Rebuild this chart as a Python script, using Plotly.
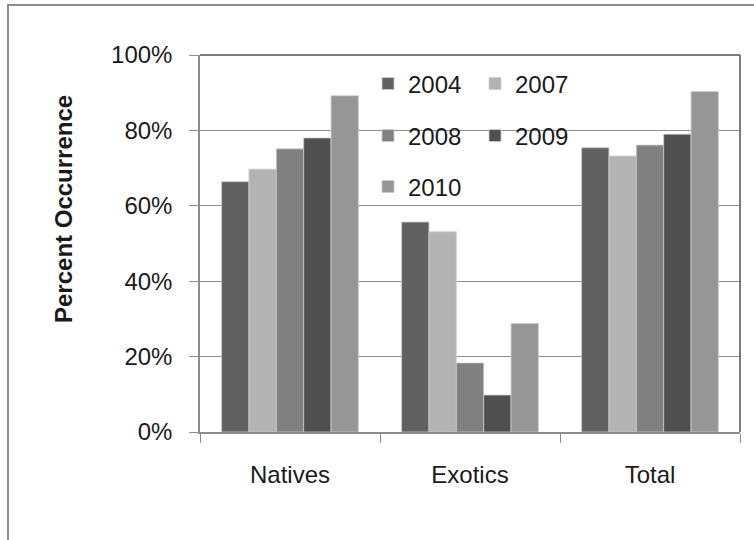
import plotly.graph_objects as go

categories = ["Natives", "Exotics", "Total"]
years = ["2004", "2007", "2008", "2009", "2010"]
values = {
    "2004": [0.664, 0.557, 0.754],
    "2007": [0.697, 0.531, 0.732],
    "2008": [0.751, 0.183, 0.761],
    "2009": [0.780, 0.098, 0.790],
    "2010": [0.892, 0.288, 0.903],
}
colors = {
    "2004": "#616161",
    "2007": "#b3b3b3",
    "2008": "#808080",
    "2009": "#4f4f4f",
    "2010": "#969696",
}
ytick_vals = [0, 0.2, 0.4, 0.6, 0.8, 1.0]
ytick_text = ["0%", "20%", "40%", "60%", "80%", "100%"]

W, H = 754, 540
L, R, T, B = 200, 14, 55, 108
pw, ph = W - L - R, H - T - B

def px_x(x):
    return (x - L) / pw

def px_y(y):
    return (H - B - y) / ph

FONT = "Liberation Sans, Arial, sans-serif"
TXT = "#1a1a1a"

# legend placement (column x, row y in pixels)
legend_pos = {
    "2004": (368, 84),
    "2007": (475, 84),
    "2008": (368, 136),
    "2009": (475, 136),
    "2010": (368, 187),
}

fig = go.Figure()
legend_layouts = {}
for i, yr in enumerate(years):
    lname = "legend" if i == 0 else f"legend{i+1}"
    fig.add_trace(go.Bar(
        name=yr, x=categories, y=values[yr],
        marker=dict(color=colors[yr], line=dict(color="#cdcdcd", width=0.8)),
        legend=lname,
    ))
    lx, ly = legend_pos[yr]
    legend_layouts[lname] = dict(
        x=px_x(lx), y=px_y(ly), xanchor="left", yanchor="middle",
        bgcolor="rgba(0,0,0,0)", borderwidth=0,
        font=dict(family=FONT, size=24, color=TXT),
        orientation="v",
    )

shapes = [
    # white legend backdrop (between gridlines and bars)
    dict(type="rect", xref="paper", yref="paper",
         x0=px_x(372), x1=px_x(578), y0=px_y(212), y1=px_y(60),
         fillcolor="white", line=dict(width=0), layer="between"),
    # plot-area border top and right
    dict(type="line", xref="paper", yref="paper", x0=0, x1=1, y0=1, y1=1,
         line=dict(color="#505050", width=1.5)),
    dict(type="line", xref="paper", yref="paper", x0=1, x1=1, y0=0, y1=1,
         line=dict(color="#505050", width=1.5)),
    # outer chart border
    dict(type="rect", xref="paper", yref="paper",
         x0=px_x(8), x1=px_x(800), y0=px_y(600), y1=px_y(5),
         line=dict(color="#8c8c8c", width=2), fillcolor="rgba(0,0,0,0)"),
]

fig.update_layout(
    width=W, height=H,
    margin=dict(l=L, r=R, t=T, b=B),
    paper_bgcolor="white", plot_bgcolor="white",
    barmode="group", bargap=0.24, bargroupgap=0,
    font=dict(family=FONT, size=24, color=TXT),
    shapes=shapes,
    annotations=[dict(
        text="<b>Percent Occurrence</b>", textangle=-90,
        xref="paper", yref="paper", x=px_x(64), y=px_y(209),
        xanchor="center", yanchor="middle", showarrow=False,
        font=dict(family=FONT, size=24, color=TXT),
    )],
    xaxis=dict(
        type="category", tickson="boundaries", ticks="outside", ticklen=9,
        tickcolor="#8c8c8c", showline=True, linecolor="#8c8c8c", linewidth=1.5,
        showgrid=False, ticklabelstandoff=20,
        tickfont=dict(family=FONT, size=24, color=TXT),
    ),
    yaxis=dict(
        range=[0, 1], tickvals=ytick_vals, ticktext=ytick_text,
        ticks="outside", ticklen=9, tickcolor="#8c8c8c",
        showline=True, linecolor="#8c8c8c", linewidth=1.5,
        showgrid=True, gridcolor="#8c8c8c", gridwidth=1, zeroline=False,
        ticklabelstandoff=12,
        tickfont=dict(family=FONT, size=24, color=TXT),
    ),
    showlegend=True,
    **legend_layouts,
)

fig.write_html("out.html", config={"displayModeBar": False},
               post_script="document.body.style.margin='0';")
